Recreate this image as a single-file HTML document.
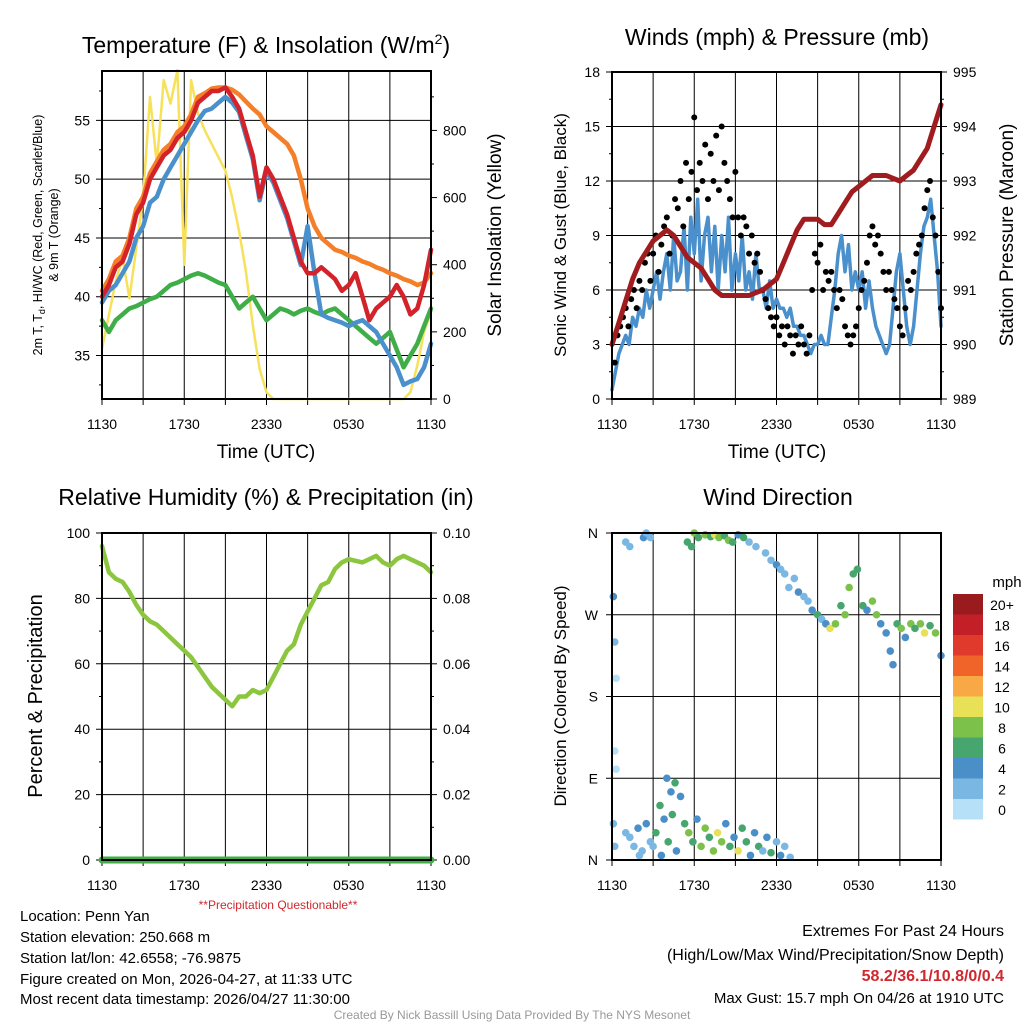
<!DOCTYPE html>
<html><head><meta charset="utf-8"><style>
body{margin:0;background:#fff}
svg{display:block;font-family:"Liberation Sans",sans-serif}
</style></head><body>
<svg id="s" width="1024" height="1024" viewBox="0 0 1024 1024">
<text x="266" y="53" font-size="23" text-anchor="middle">Temperature (F) &amp; Insolation (W/m<tspan dy="-9" font-size="14">2</tspan><tspan dy="9">)</tspan></text>
<text x="777" y="45" font-size="23" text-anchor="middle">Winds (mph) &amp; Pressure (mb)</text>
<text x="266" y="505" font-size="23" text-anchor="middle">Relative Humidity (%) &amp; Precipitation (in)</text>
<text x="778" y="505" font-size="23" text-anchor="middle">Wind Direction</text>
<text x="266" y="458" font-size="19" text-anchor="middle">Time (UTC)</text>
<text x="777" y="458" font-size="19" text-anchor="middle">Time (UTC)</text>
<text transform="translate(42,235) rotate(-90)" font-size="12.5" text-anchor="middle">2m T, T<tspan font-size="9" dy="3">d</tspan><tspan dy="-3">, HI/WC (Red, Green, Scarlet/Blue)</tspan></text>
<text transform="translate(58,235) rotate(-90)" font-size="12.5" text-anchor="middle">&amp; 9m T (Orange)</text>
<text transform="translate(501,235) rotate(-90)" font-size="19" text-anchor="middle">Solar Insolation (Yellow)</text>
<text transform="translate(566,235) rotate(-90)" font-size="17" text-anchor="middle">Sonic Wind &amp; Gust (Blue, Black)</text>
<text transform="translate(1013,235) rotate(-90)" font-size="19" text-anchor="middle">Station Pressure (Maroon)</text>
<text transform="translate(42,696) rotate(-90)" font-size="20" text-anchor="middle">Percent &amp; Precipitation</text>
<text transform="translate(566,696) rotate(-90)" font-size="17" text-anchor="middle">Direction (Colored By Speed)</text>
<text x="278" y="909" font-size="12" fill="#d0282e" text-anchor="middle">**Precipitation Questionable**</text>
<g font-size="15">
<text x="20" y="921">Location: Penn Yan</text>
<text x="20" y="942">Station elevation: 250.668 m</text>
<text x="20" y="963">Station lat/lon: 42.6558; -76.9875</text>
<text x="20" y="984">Figure created on Mon, 2026-04-27, at 11:33 UTC</text>
<text x="20" y="1004">Most recent data timestamp: 2026/04/27 11:30:00</text>
</g>
<g font-size="16" text-anchor="end">
<text x="1004" y="936">Extremes For Past 24 Hours</text>
<text x="1004" y="960">(High/Low/Max Wind/Precipitation/Snow Depth)</text>
<text x="1004" y="981" fill="#d0282e" font-weight="bold">58.2/36.1/10.8/0/0.4</text>
<text x="1004" y="1003" font-size="15">Max Gust: 15.7 mph On 04/26 at 1910 UTC</text>
</g>
<text x="512" y="1019" font-size="12" fill="#999" text-anchor="middle">Created By Nick Bassill Using Data Provided By The NYS Mesonet</text>
<text x="1007" y="587" font-size="15" text-anchor="middle">mph</text>
</svg>
<script>
const NS="http://www.w3.org/2000/svg";
const svg=document.getElementById('s');
// ---------- data ----------
const xTickLabels=["1130","1730","2330","0530","1130"];
const hours=[0,0.5,1,1.5,2,2.5,3,3.5,4,4.5,5,5.5,6,6.5,7,7.5,8,8.5,9,9.5,10,10.5,11,11.5,12,12.5,13,13.5,14,14.5,15,15.5,16,16.5,17,17.5,18,18.5,19,19.5,20,20.5,21,21.5,22,22.5,23,23.5,24];
const temp2m=[40,41,42.5,43,44.5,47,48,50,51,52,52.5,53.5,54,55,56.5,57,57.5,57.5,57.8,57,56,54,52,48.5,51,50,48.5,47,45,43,42,42,42.5,42,41.5,40.5,41,42,40,38,39,39.5,40,41,40,38.5,39,41,44];
const temp9m=[40.5,41.5,43,43.5,45,47.5,48.5,50.5,51.5,52.5,53,54,54.5,55.5,57,57.3,57.7,57.8,57.8,57.6,57.2,56.6,56,55.5,54.5,54,53.5,53,52,50,47.5,46,45,44.5,44,43.8,43.5,43.3,43,42.8,42.5,42.3,42,41.8,41.5,41.3,41,41.2,42];
const heatIdx=[39.5,40.5,41,42,43,45,46,48,48.5,50,51,52,53,54,55,55.8,56,56.5,57,56.5,55.7,53.7,51.7,48.2,50.7,49.7,48.2,46.7,44.7,42.7,46,42,38.5,38.2,38,37.8,37.5,37.8,38,37.5,37,36,35,34,32.5,32.8,33,34,36];
const dewpt=[38,37,38,38.5,39,39.2,39.5,39.8,40,40.5,41,41.2,41.5,41.8,42,41.8,41.5,41.2,41,40,39,39.5,40,39,38,38.5,39,38.8,38.5,38.8,39,38.7,38.5,38.8,39,38.5,38,37.5,37,36.5,36,36.5,37,35.5,34,35,36,37.5,39];
const insol=[150,250,350,420,300,450,600,900,700,950,880,980,400,950,850,800,760,720,680,600,500,380,220,90,20,0,0,0,0,0,0,0,0,0,0,0,0,0,0,0,0,0,0,0,0,20,100,200,260];
const pressure=[990,990.4,990.8,991.2,991.5,991.7,991.9,992,992.1,992,991.8,991.6,991.5,991.4,991.2,991,990.9,990.9,990.9,990.9,990.9,990.95,991,991.1,991.2,991.5,991.8,992.1,992.3,992.3,992.3,992.2,992.2,992.4,992.6,992.8,992.9,993,993.1,993.1,993.1,993.05,993,993.1,993.2,993.4,993.6,994,994.4];
const windTimes=[];for(let i=0;i<=96;i++)windTimes.push(i*0.25);
const windSpeed=[0.5,1.5,2.5,3,3.5,3,4.5,4,5,4.5,6,5,6,7,5.5,7,8,6,9,6.5,7,9.5,6,10,8,11,6.5,9,10,7,9.5,6,9,7,10,6,8,6.5,9,6,7,5.5,8,6,6,5,6.5,5,5.5,5,5,4.5,5,4,4,3.5,3.5,3,2.5,3,3,3.5,3,3,4.5,6,8,9,7,8.5,6,7,6,7,5,6.5,5,4,3.5,3,2.5,3,5,7,8,6,4,3,4,6,8,9.5,10,11,9,7,4];
const gustTimes=[0.2,0.4,0.6,0.8,1,1.2,1.4,1.6,1.8,2,2.2,2.4,2.6,2.8,3,3.2,3.4,3.6,3.8,4,4.2,4.4,4.6,4.8,5,5.2,5.4,5.6,5.8,6,6.2,6.4,6.6,6.8,7,7.2,7.4,7.6,7.8,8,8.2,8.4,8.6,8.8,9,9.2,9.4,9.6,9.8,10,10.2,10.4,10.6,10.8,11,11.2,11.4,11.6,11.8,12,12.2,12.4,12.6,12.8,13,13.2,13.4,13.6,13.8,14,14.2,14.4,14.6,14.8,15,15.2,15.4,15.6,15.8,16,16.2,16.4,16.6,16.8,17,17.2,17.4,17.6,17.8,18,18.2,18.4,18.6,18.8,19,19.2,19.4,19.6,19.8,20,20.2,20.4,20.6,20.8,21,21.2,21.4,21.6,21.8,22,22.2,22.4,22.6,22.8,23,23.2,23.4,23.6,23.8,24];
const gustSpeed=[2,3.5,4,4.5,5,4,5.5,6,5,6.5,6,7.5,8,6.5,8,9,7,8.5,9.5,10,8,9,11,10.5,12,9.5,13,11,12.5,15.5,11.5,13,12,14,11,13.5,12,14.5,11.5,15,13,12,11,10,12.5,10,9,10,9.5,8,9,7.5,8,7,6,5.5,5,4.5,4,4.5,3.5,4,3,4,3.5,2.5,3.5,3,4,3,2.5,3.5,6,8,7.5,8.5,6,7,6.5,7,6,5,6,5.5,4,3.5,3,3.5,4,5,6,6.5,7.5,9,9.5,8.5,9,8,7,6,7,6,5.5,5,4,3.5,5,6.5,6,7,8,8.5,9,10.5,11.5,12,10,9,7,5];
const rh=[96,88,86,85,82,78,75,73,72,70,68,66,64,62,59,56,53,51,49,47,50,50,52,51,52,56,60,64,66,72,76,80,84,85,89,91,92,91.5,91,92,93,91,90,92,93,92,91,90,88];
const precip=[0,0,0,0,0,0,0,0,0,0,0,0,0,0,0,0,0,0,0,0,0,0,0,0,0,0,0,0,0,0,0,0,0,0,0,0,0,0,0,0,0,0,0,0,0,0,0,0,0];
const dirTimes=[1.0,1.3,2.3,2.5,2.8,5.5,5.8,6.0,6.3,6.8,7.2,7.5,7.8,8.2,8.5,8.8,9.2,9.6,10.0,10.5,11.2,11.6,12.0,12.3,12.6,12.9,13.3,13.6,14.0,14.3,14.6,15.0,15.3,15.6,15.9,16.3,16.7,17.0,17.3,17.6,17.9,18.3,18.6,19.0,19.3,19.6,20.0,20.3,20.5,20.8,21.1,21.4,21.8,22.1,22.5,22.8,23.2,23.6,24.0,0.1,0.2,0.3,0.2,0.3,0.1,0.2,1.0,1.3,1.6,1.9,2.2,2.5,2.8,3.2,3.5,3.8,4.1,4.4,4.7,4.0,4.3,4.6,5.0,5.3,5.6,5.9,6.2,6.5,6.8,7.1,7.4,7.7,8.0,8.3,8.6,8.9,9.2,9.5,9.8,10.1,10.4,10.7,11.0,11.3,11.6,12.0,12.3,12.6,13.0,3.0,2.0,3.6];
const dirDeg=[350,345,355,360,355,350,345,360,355,358,356,358,355,357,352,350,358,355,350,345,338,330,325,320,315,300,310,295,290,285,275,270,265,260,255,260,280,270,300,315,320,280,275,285,270,260,250,230,215,260,255,245,260,255,260,250,258,250,225,290,240,200,120,100,40,15,30,25,15,35,10,40,20,30,60,45,20,50,10,90,75,85,70,40,30,20,45,15,35,25,10,30,20,40,15,25,10,35,20,5,30,15,10,25,8,20,5,15,3,15,5,5];
const dirSpeed=[2,2,4,2,2,6,6,8,6,8,6,10,8,6,8,6,4,6,2,2,2,2,4,2,2,2,2,4,2,2,4,6,2,4,10,8,6,8,8,6,6,6,4,8,8,4,4,4,4,6,8,4,8,6,8,10,6,8,4,4,2,0,0,0,2,2,2,2,2,4,2,4,2,6,6,4,6,6,4,4,4,6,4,6,8,6,4,8,8,6,8,10,8,4,6,4,10,6,6,4,4,6,2,4,6,2,4,2,2,2,2,4];
const cbLabels=["20+","18","16","14","12","10","8","6","4","2","0"];
const cbColors=["#991b1e","#c21f28","#e03a2c","#f06429","#f8a945","#e8e158","#7cc24a","#47a66e","#4a8fc8","#7ab8e3","#b5e0f7"];
// ---------- helpers ----------
function el(tag,attrs,parent){const e=document.createElementNS(NS,tag);for(const k in attrs)e.setAttribute(k,attrs[k]);(parent||svg).appendChild(e);return e;}
function scale(d0,d1,r0,r1){return v=>r0+(v-d0)*(r1-r0)/(d1-d0);}
function polyline(xs,ys,X,Y,color,w,name){
  const pts=xs.map((t,i)=>X(t).toFixed(1)+','+Y(ys[i]).toFixed(1)).join(' ');
  const p=el('polyline',{points:pts,fill:'none',stroke:color,'stroke-width':w,'stroke-linejoin':'round','stroke-linecap':'round'});
  
  
  return p;
}
function panel(x0,y0,x1,y1,name,yticks,yfmt,ymin,ymax,minor,rticks,rfmt,rmin,rmax,rminor,xlabY){
  const g=el('g',{});
  
  
  const X=scale(0,24,x0,x1),Y=scale(ymin,ymax,y1,y0);
  for(let h=3;h<24;h+=3)el('line',{x1:X(h),x2:X(h),y1:y0,y2:y1,stroke:'#000','stroke-width':1},g);
  yticks.forEach(v=>{el('line',{x1:x0-6,x2:x1,y1:Y(v),y2:Y(v),stroke:'#000','stroke-width':1},g);
    const t=el('text',{x:x0-12,y:Y(v)+5,'font-size':14,'text-anchor':'end'},g);t.textContent=yfmt(v);});
  minor.forEach(v=>el('line',{x1:x0-3,x2:x0,y1:Y(v),y2:Y(v),stroke:'#000'},g));
  if(rticks){const R=scale(rmin,rmax,y1,y0);
    rticks.forEach(v=>{el('line',{x1:x1,x2:x1+6,y1:R(v),y2:R(v),stroke:'#000'},g);
      const t=el('text',{x:x1+12,y:R(v)+5,'font-size':14},g);t.textContent=rfmt(v);});
    rminor.forEach(v=>el('line',{x1:x1,x2:x1+3,y1:R(v),y2:R(v),stroke:'#000'},g));}
  for(let h=0;h<=24;h+=3)el('line',{x1:X(h),x2:X(h),y1:y1,y2:y1+6,stroke:'#000'},g);
  xTickLabels.forEach((lb,i)=>{const t=el('text',{x:X(i*6),y:xlabY,'font-size':14,'text-anchor':'middle'},g);t.textContent=lb;});
  el('rect',{x:x0,y:y0,width:x1-x0,height:y1-y0,fill:'none',stroke:'#000','stroke-width':2},g);
  return {X,Y};
}
function frameTop(x0,y0,x1,y1){el('rect',{x:x0,y:y0,width:x1-x0,height:y1-y0,fill:'none',stroke:'#000','stroke-width':2});}
// ---------- panel 1 ----------
{
 const P=panel(102,71,431,399,'temperature',[35,40,45,50,55],v=>v,31.3,59.2,[32.5,37.5,42.5,47.5,52.5,57.5],[0,200,400,600,800],v=>v,0,977,[100,300,500,700,900],429);
 const R=scale(0,977,399,71);
 polyline(hours,insol,P.X,R,'#f7e15a',2.5,'insolation-line');
 polyline(hours,dewpt,P.X,P.Y,'#3fae49',4.5,'dewpoint-line');
 polyline(hours,temp9m,P.X,P.Y,'#f47f28',4.5,'temp-9m-line');
 polyline(hours,heatIdx,P.X,P.Y,'#4a90cc',4.5,'windchill-line');
 polyline(hours,temp2m,P.X,P.Y,'#d3222a',4.5,'temp-2m-line');
 frameTop(102,71,431,399);
}
// ---------- panel 2 ----------
{
 const P=panel(612,72,941,399,'wind',[0,3,6,9,12,15,18],v=>v,0,18,[1.5,4.5,7.5,10.5,13.5,16.5],[989,990,991,992,993,994,995],v=>v,989,995,[989.5,990.5,991.5,992.5,993.5,994.5],429);
 polyline(windTimes,windSpeed,P.X,P.Y,'#4a90cc',3.5,'sonic-wind-line');
 gustTimes.forEach((t,i)=>{const c=el('circle',{cx:P.X(t),cy:P.Y(gustSpeed[i]),r:3,fill:'#000'});
   
   });
 const R=scale(989,995,399,72);
 polyline(hours,pressure,P.X,R,'#a01c1f',5,'pressure-line');
 frameTop(612,72,941,399);
}
// ---------- panel 3 ----------
{
 const P=panel(102,533,431,860,'humidity',[0,20,40,60,80,100],v=>v,0,100,[10,30,50,70,90],[0,0.02,0.04,0.06,0.08,0.10],v=>v.toFixed(2),0,0.1,[0.01,0.03,0.05,0.07,0.09],890);
 polyline(hours,rh,P.X,P.Y,'#8cc63f',4.5,'rh-line');
 const R=scale(0,0.1,860,533);
 polyline(hours,precip,P.X,R,'#3fae49',7,'precip-line');
 frameTop(102,533,431,860);
}
// ---------- panel 4 ----------
{
 const dirLabels=['N','E','S','W','N'];
 const g=el('g',{});
 
 
 const X=scale(0,24,612,941),Y=scale(0,360,860,533);
 for(let h=3;h<24;h+=3)el('line',{x1:X(h),x2:X(h),y1:533,y2:860,stroke:'#000'},g);
 dirLabels.forEach((lb,i)=>{const v=i*90;el('line',{x1:606,x2:941,y1:Y(v),y2:Y(v),stroke:'#000'},g);
   const t=el('text',{x:598,y:Y(v)+5,'font-size':14,'text-anchor':'end'},g);t.textContent=lb;});
 for(let h=0;h<=24;h+=3)el('line',{x1:X(h),x2:X(h),y1:860,y2:866,stroke:'#000'},g);
 xTickLabels.forEach((lb,i)=>{const t=el('text',{x:X(i*6),y:890,'font-size':14,'text-anchor':'middle'},g);t.textContent=lb;});
 dirTimes.forEach((t,i)=>{const bin=Math.min(10,Math.floor(dirSpeed[i]/2));
   const c=el('circle',{cx:X(t),cy:Y(dirDeg[i]),r:3.8,fill:cbColors[10-bin]});
   
   });
 frameTop(612,533,941,860);
 cbLabels.forEach((lb,i)=>{const r=el('rect',{x:953,y:594+i*20.5,width:30,height:20.5,fill:cbColors[i]});
   
   
   const t=el('text',{x:1002,y:594+i*20.5+11+5,'font-size':14,'text-anchor':'middle'});t.textContent=lb;
   
   });
}
</script>
</body></html>
